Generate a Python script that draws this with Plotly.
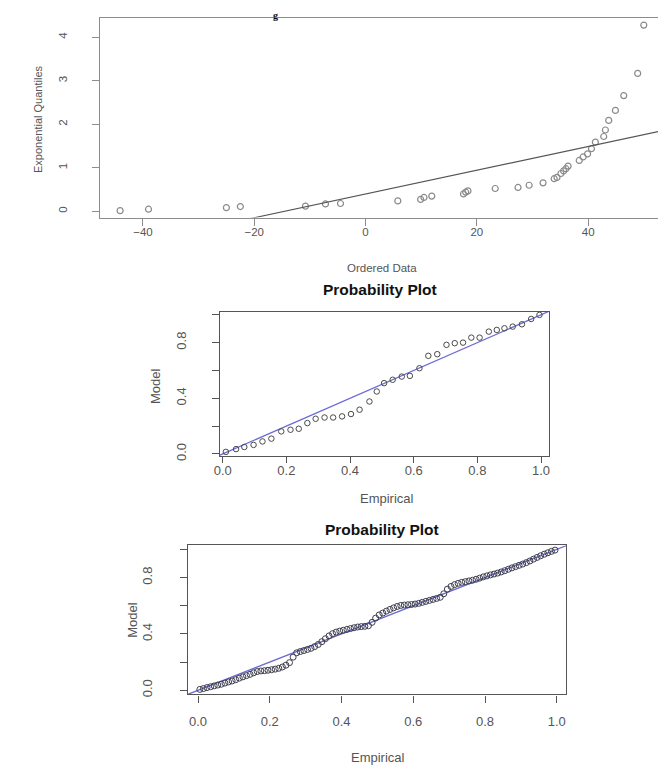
import plotly.graph_objects as go

W, H = 666, 765

# ---------------- data ----------------
# Panel 1: exponential Q-Q plot
ordered_data = [-44.1, -39.0, -25.0, -22.5, -10.8, -7.2, -4.5, 5.8, 9.9, 10.5, 11.9,
                17.6, 18.0, 18.4, 23.3, 27.4, 29.4, 31.9, 33.9, 34.4, 35.1, 35.6,
                36.0, 36.4, 38.4, 39.1, 39.9, 40.6, 41.3, 42.8, 43.1, 43.7, 44.9,
                46.4, 48.9, 50.0]
exp_quantiles = [0.016, 0.05, 0.085, 0.11, 0.12, 0.17, 0.18, 0.24, 0.275, 0.32, 0.35,
                 0.40, 0.44, 0.47, 0.525, 0.55, 0.60, 0.655, 0.75, 0.78, 0.87, 0.93,
                 0.98, 1.04, 1.17, 1.25, 1.32, 1.44, 1.59, 1.72, 1.87, 2.09, 2.32,
                 2.66, 3.17, 4.28]
qq_line_x = [-60, 60]
qq_line_intercept = 0.40
qq_line_slope = 0.0273

# Panel 2: probability plot (small sample)
pp1_empirical = [0.010, 0.042, 0.068, 0.097, 0.125, 0.153, 0.184, 0.213, 0.239, 0.266,
                 0.292, 0.320, 0.347, 0.375, 0.403, 0.430, 0.461, 0.484, 0.507, 0.534,
                 0.5625, 0.588, 0.618, 0.646, 0.674, 0.703, 0.729, 0.755, 0.781, 0.807,
                 0.836, 0.861, 0.885, 0.911, 0.940, 0.969, 0.995]
pp1_model = [0.015, 0.035, 0.05, 0.065, 0.09, 0.11, 0.162, 0.174, 0.181, 0.222,
             0.253, 0.262, 0.262, 0.27, 0.287, 0.318, 0.377, 0.449, 0.509, 0.533,
             0.556, 0.561, 0.616, 0.705, 0.717, 0.784, 0.796, 0.80, 0.836, 0.836,
             0.879, 0.891, 0.903, 0.915, 0.932, 0.97, 0.999]

# Panel 3: probability plot (large sample)
pp2_empirical = [0.005, 0.015, 0.025, 0.035, 0.045, 0.055, 0.065, 0.075, 0.085, 0.095,
                 0.105, 0.115, 0.125, 0.135, 0.145, 0.155, 0.165, 0.175, 0.185, 0.195,
                 0.205, 0.215, 0.225, 0.235, 0.245, 0.255, 0.265, 0.275, 0.285, 0.295,
                 0.305, 0.315, 0.325, 0.335, 0.345, 0.355, 0.365, 0.375, 0.385, 0.395,
                 0.405, 0.415, 0.425, 0.435, 0.445, 0.455, 0.465, 0.475, 0.485, 0.495,
                 0.505, 0.515, 0.525, 0.535, 0.545, 0.555, 0.565, 0.575, 0.585, 0.595,
                 0.605, 0.615, 0.625, 0.635, 0.645, 0.655, 0.665, 0.675, 0.685, 0.695,
                 0.705, 0.715, 0.725, 0.735, 0.745, 0.755, 0.765, 0.775, 0.785, 0.795,
                 0.805, 0.815, 0.825, 0.835, 0.845, 0.855, 0.865, 0.875, 0.885, 0.895,
                 0.905, 0.915, 0.925, 0.935, 0.945, 0.955, 0.965, 0.975, 0.985, 0.995]
pp2_model = [0.006, 0.012, 0.019, 0.025, 0.031, 0.037, 0.043, 0.051, 0.059, 0.066,
             0.075, 0.086, 0.095, 0.104, 0.113, 0.124, 0.133, 0.137, 0.139, 0.142,
             0.146, 0.150, 0.156, 0.165, 0.178, 0.196, 0.235, 0.266, 0.275, 0.282,
             0.290, 0.298, 0.310, 0.325, 0.345, 0.366, 0.386, 0.402, 0.413, 0.420,
             0.426, 0.432, 0.438, 0.444, 0.449, 0.452, 0.454, 0.458, 0.482, 0.512,
             0.535, 0.548, 0.562, 0.574, 0.585, 0.595, 0.602, 0.605, 0.607, 0.609,
             0.612, 0.617, 0.624, 0.631, 0.638, 0.645, 0.652, 0.660, 0.685, 0.718,
             0.737, 0.750, 0.759, 0.766, 0.771, 0.776, 0.781, 0.788, 0.796, 0.805,
             0.812, 0.819, 0.825, 0.832, 0.840, 0.849, 0.859, 0.869, 0.878, 0.887,
             0.896, 0.906, 0.918, 0.931, 0.943, 0.955, 0.966, 0.976, 0.986, 0.995]
ref_line = [-0.1, 1.1]

top_xticks = [-40, -20, 0, 20, 40]
top_yticks = [0, 1, 2, 3, 4]
pp_ticks = [0.0, 0.2, 0.4, 0.6, 0.8, 1.0]
pp_xtext = ["0.0", "0.2", "0.4", "0.6", "0.8", "1.0"]
pp_ytext = ["0.0", "", "0.4", "", "0.8", ""]

# ---------------- layout helpers ----------------
def xdom(a, b):
    return [a / W, b / W]

def ydom(top, bottom):
    return [1 - bottom / H, 1 - top / H]

def px(x):
    return x / W

def py(y):
    return 1 - y / H

FONT = "Liberation Sans, Arial, sans-serif"
BLUE = "#6b6bd6"

fig = go.Figure()

# panel 1
fig.add_trace(go.Scatter(
    x=ordered_data, y=exp_quantiles, mode="markers", xaxis="x", yaxis="y",
    marker=dict(symbol="circle-open", size=6, color="#8a8a8a", line=dict(width=1.2)),
    showlegend=False, hoverinfo="skip"))
fig.add_trace(go.Scatter(
    x=qq_line_x, y=[qq_line_intercept + qq_line_slope * v for v in qq_line_x],
    mode="lines", xaxis="x", yaxis="y",
    line=dict(color="#555555", width=1.2), showlegend=False, hoverinfo="skip"))

# panel 2
fig.add_trace(go.Scatter(
    x=ref_line, y=ref_line, mode="lines", xaxis="x2", yaxis="y2",
    line=dict(color=BLUE, width=1.3), showlegend=False, hoverinfo="skip"))
fig.add_trace(go.Scatter(
    x=pp1_empirical, y=pp1_model, mode="markers", xaxis="x2", yaxis="y2",
    marker=dict(symbol="circle-open", size=5.5, color="#4a4a4a", line=dict(width=1)),
    showlegend=False, hoverinfo="skip"))

# panel 3
fig.add_trace(go.Scatter(
    x=ref_line, y=ref_line, mode="lines", xaxis="x3", yaxis="y3",
    line=dict(color=BLUE, width=1.3), showlegend=False, hoverinfo="skip"))
fig.add_trace(go.Scatter(
    x=pp2_empirical, y=pp2_model, mode="markers", xaxis="x3", yaxis="y3",
    marker=dict(symbol="circle-open", size=6, color="#3e3e4e", line=dict(width=1)),
    showlegend=False, hoverinfo="skip"))

def axis_common(color, tickfont_size, tickcolor, ticklen=7):
    return dict(showline=True, mirror=True, linecolor=color, linewidth=1.3,
                showgrid=False, zeroline=False, ticks="outside", ticklen=ticklen,
                tickcolor=tickcolor, tickwidth=1.2,
                tickfont=dict(family=FONT, size=tickfont_size, color="#555555"))

top_ax = axis_common("#8c8c8c", 11.5, "#8c8c8c")
pp_ax = axis_common("#555555", 13, "#555555")
pp_ax_short = axis_common("#555555", 13, "#555555", ticklen=6)

fig.update_layout(
    width=W, height=H, margin=dict(l=0, r=0, t=0, b=0),
    paper_bgcolor="white", plot_bgcolor="white",
    xaxis=dict(domain=xdom(87, 657), range=[-47.7, 53.65], anchor="y",
               tickvals=top_xticks, ticklabelstandoff=-4, **top_ax),
    yaxis=dict(domain=ydom(10, 211), range=[-0.144, 4.445], anchor="x",
               tickvals=top_yticks, tickangle=-90, ticklabelstandoff=20, **top_ax),
    xaxis2=dict(domain=xdom(208, 541), range=[-0.009, 1.026], anchor="y2",
                tickvals=pp_ticks, ticktext=pp_xtext, ticklabelstandoff=-4,
                **pp_ax_short),
    yaxis2=dict(domain=ydom(306, 451), range=[-0.015, 1.02], anchor="x2",
                tickvals=pp_ticks, ticktext=pp_ytext, tickangle=-90,
                ticklabelstandoff=20, **pp_ax),
    xaxis3=dict(domain=xdom(176, 558), range=[-0.0276, 1.026], anchor="y3",
                tickvals=pp_ticks, ticktext=pp_xtext, ticklabelstandoff=8, **pp_ax),
    yaxis3=dict(domain=ydom(541, 691), range=[-0.03, 1.028], anchor="x3",
                tickvals=pp_ticks, ticktext=pp_ytext, tickangle=-90,
                ticklabelstandoff=23, **pp_ax),
)

def label(text, x, y, size, color="#555555", angle=0, bold=False, family=FONT):
    fig.add_annotation(text=f"<b>{text}</b>" if bold else text,
                       x=px(x), y=py(y), xref="paper", yref="paper",
                       showarrow=False, textangle=angle,
                       xanchor="center", yanchor="middle",
                       font=dict(family=family, size=size, color=color))

# caption fragment at the very top of the page
fig.add_annotation(text="<b>g</b>", x=px(264), y=1.0, xref="paper", yref="paper",
                   showarrow=False, xanchor="center", yanchor="top",
                   font=dict(family="Liberation Serif, Times New Roman, serif",
                             size=10, color="#111111"))

label("Exponential Quantiles", 25, 112, 11, angle=-90)
label("Ordered Data", 372, 262, 11.5)
label("Probability Plot", 370, 283, 15.5, color="#111111", bold=True)
label("Model", 143, 380, 13, angle=-90)
label("Empirical", 377, 494, 13)
label("Probability Plot", 372, 525, 15.5, color="#111111", bold=True)
label("Model", 120, 616, 13, angle=-90)
label("Empirical", 368, 754, 13)

fig.write_html("out.html")
